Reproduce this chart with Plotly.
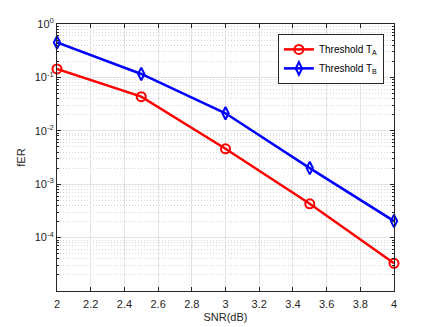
import plotly.graph_objects as go

# Data
snr = [2.0, 2.5, 3.0, 3.5, 4.0]
fer_a = [0.144, 0.0436, 0.0046, 4.3e-4, 3.3e-5]
fer_b = [0.45, 0.116, 0.0213, 2.0e-3, 2.04e-4]

y_tickvals = [1e-4, 1e-3, 1e-2, 1e-1, 1e0]
y_ticktext = ["10<sup>-4</sup>", "10<sup>-3</sup>", "10<sup>-2</sup>", "10<sup>-1</sup>", "10<sup>0</sup>"]
x_tickvals = [2, 2.2, 2.4, 2.6, 2.8, 3, 3.2, 3.4, 3.6, 3.8, 4]

fig = go.Figure()

fig.add_trace(go.Scatter(
    x=snr, y=fer_a, name="Threshold T<sub>A</sub>",
    mode="lines+markers",
    line=dict(color="#FF0000", width=2.5),
    marker=dict(symbol="circle-open", size=9, color="#FF0000", line=dict(width=2)),
    cliponaxis=False
))

fig.add_trace(go.Scatter(
    x=snr, y=fer_b, name="Threshold T<sub>B</sub>",
    mode="lines+markers",
    line=dict(color="#0000FF", width=2.5),
    marker=dict(symbol="diamond-tall-open", size=9, color="#0000FF", line=dict(width=2)),
    cliponaxis=False
))

axis_color = "#262626"

fig.update_layout(
    width=436, height=327,
    margin=dict(l=57, r=42, t=24, b=36),
    paper_bgcolor="white",
    plot_bgcolor="white",
    font=dict(family="Liberation Sans, Arial, sans-serif", size=11, color=axis_color),
    showlegend=True,
    legend=dict(
        x=0.97, y=0.963, xanchor="right", yanchor="top",
        bgcolor="white", bordercolor=axis_color, borderwidth=1,
        font=dict(size=10, color="#000000"),
        itemwidth=30,
    ),
)

fig.update_xaxes(
    range=[2, 4],
    tickvals=x_tickvals,
    automargin=False,
    ticks="inside", ticklen=4, tickcolor=axis_color,
    ticklabelstandoff=3,
    showline=True, linecolor=axis_color, linewidth=1, mirror="allticks",
    showgrid=True, gridcolor="#E3E3E3", gridwidth=1,
    zeroline=False,
    title=dict(text="SNR(dB)", standoff=4, font=dict(size=11)),
    tickfont=dict(size=11),
)

fig.update_yaxes(
    type="log",
    range=[-5, 0],
    tickvals=y_tickvals, ticktext=y_ticktext,
    automargin=False,
    ticks="inside", ticklen=4, tickcolor=axis_color,
    showline=True, linecolor=axis_color, linewidth=1, mirror="allticks",
    showgrid=True, gridcolor="#E3E3E3", gridwidth=1,
    zeroline=False,
    minor=dict(
        dtick="D1", showgrid=True, griddash="1px,2px", gridcolor="#D6D6D6",
        ticks="inside", ticklen=2, tickcolor=axis_color,
    ),
    title=dict(text="fER", standoff=6, font=dict(size=11)),
    tickfont=dict(size=11),
)

fig.write_html("out.html", config={"displayModeBar": False},
               post_script="document.body.style.margin='0';")
